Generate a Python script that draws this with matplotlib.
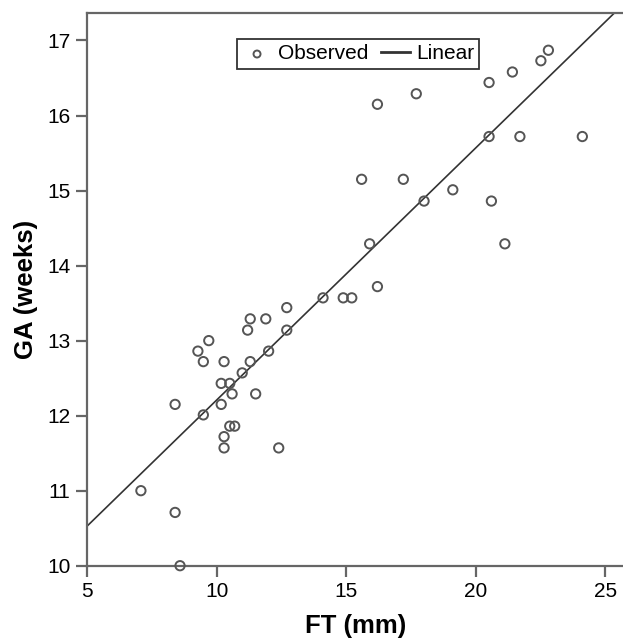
import matplotlib
matplotlib.use("Agg")
import matplotlib.pyplot as plt
import numpy as np

plt.rcParams['font.family'] = ['Liberation Sans', 'DejaVu Sans']

# observed points
ft_mm = [12.70, 11.29, 11.89, 11.19, 12.70, 9.69, 9.27, 12.00, 9.48, 10.28,
         11.29, 10.98, 10.17, 10.50, 10.59, 11.50, 8.39, 10.17, 9.48, 10.50,
         10.69, 10.28, 10.28, 12.39, 7.07, 8.39, 8.58, 22.80, 22.51, 21.41,
         20.51, 17.70, 16.20, 20.51, 21.70, 24.11, 15.59, 17.20, 19.11, 18.00,
         20.60, 15.90, 21.12, 14.10, 14.88, 15.21, 16.20]
ga_weeks = [13.44, 13.29, 13.29, 13.14, 13.14, 13.00, 12.86, 12.86, 12.72, 12.72,
            12.72, 12.57, 12.43, 12.43, 12.29, 12.29, 12.15, 12.15, 12.01, 11.86,
            11.86, 11.72, 11.57, 11.57, 11.00, 10.71, 10.00, 16.87, 16.73, 16.58,
            16.44, 16.29, 16.15, 15.72, 15.72, 15.72, 15.15, 15.15, 15.01, 14.86,
            14.86, 14.29, 14.29, 13.57, 13.57, 13.57, 13.72]

# linear fit as drawn: GA = intercept + slope * FT
intercept = 8.85
slope = 0.336

fig = plt.figure(figsize=(6.23, 6.43), dpi=100)
ax = fig.add_axes([0.1401, 0.1202, 0.8599, 0.860])

spine_col = '#666666'
ax.scatter(ft_mm, ga_weeks, s=45, facecolors='none', edgecolors='#555555',
           linewidths=1.4, label='Observed', zorder=3, clip_on=False)
xl = np.array([5, 25.68])
ax.plot(xl, intercept + slope * xl, color='#333333', lw=1.2, label='Linear', zorder=2)

ax.set_xlim(5, 25.68)
ax.set_ylim(10, 17.37)
ax.set_xticks([5, 10, 15, 20, 25])
ax.set_yticks(range(10, 18))

for side in ['left', 'bottom', 'top']:
    ax.spines[side].set_color(spine_col)
    ax.spines[side].set_linewidth(1.6)
ax.spines['right'].set_visible(False)
ax.tick_params(direction='out', length=8, width=1.6, color=spine_col,
               labelsize=15, labelcolor='black', pad=4)

ax.set_xlabel('FT (mm)', fontsize=18.5, fontweight='bold', labelpad=9)
ax.set_ylabel('GA (weeks)', fontsize=18.5, fontweight='bold', labelpad=7)

leg = ax.legend(loc='upper center', bbox_to_anchor=(0.506, 0.952), ncol=2,
                fontsize=15, frameon=True, fancybox=False, handlelength=1.4,
                handletextpad=0.3, columnspacing=0.6, borderpad=0.25,
                markerscale=0.75, borderaxespad=0)
leg.get_frame().set_edgecolor('black')
leg.get_frame().set_linewidth(1.3)
leg.get_lines()[0].set_linewidth(2.0) if leg.get_lines() else None

fig.savefig('out.png', dpi=100)
